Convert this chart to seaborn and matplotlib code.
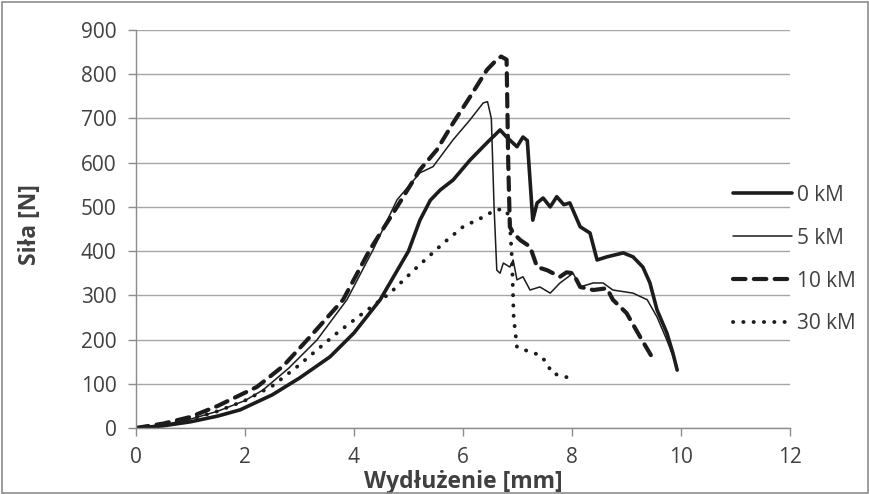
import matplotlib
matplotlib.use("Agg")
import matplotlib.pyplot as plt
import seaborn as sns
import pandas as pd

# ---- data ----
x_0km = [0, 0.5, 1.0, 1.5, 1.91, 2.5, 3.0, 3.56, 4.0, 4.48, 5.0, 5.21, 5.4, 5.58, 5.82, 6.13, 6.44, 6.68, 6.8, 6.99, 7.1,
         7.18, 7.23, 7.28, 7.36, 7.47, 7.6, 7.72, 7.85, 7.96, 8.15, 8.33, 8.46, 8.64, 8.94, 9.12, 9.3, 9.43, 9.56, 9.74,
         9.85, 9.93]
y_0km = [0, 5, 14, 27, 41, 75, 113, 161, 215, 290, 400, 470, 515, 538, 561, 606, 645, 674, 658, 636, 658,
         650, 560, 470, 509, 520, 500, 523, 505, 509, 455, 441, 380, 387, 396, 387, 364, 328, 267, 215,
         170, 131]

x_5km = [0, 0.5, 1.0, 1.5, 2.0, 2.33, 2.8, 3.32, 3.87, 4.35, 4.79, 5.21, 5.45, 5.82, 6.13, 6.37, 6.45, 6.52, 6.57, 6.62,
         6.68, 6.74, 6.86, 6.92, 6.99, 7.1, 7.23, 7.41, 7.6, 7.78, 8.02, 8.15, 8.39, 8.57, 8.75, 9.12, 9.38, 9.56, 9.74,
         9.93]
y_5km = [0, 7, 20, 38, 62, 86, 135, 199, 290, 403, 516, 577, 591, 652, 697, 735, 738, 700, 500, 357,
         350, 373, 364, 380, 335, 342, 312, 319, 305, 328, 350, 319, 328, 328, 312, 305, 290, 251, 199,
         138]

x_10km = [0, 0.5, 1.0, 1.5, 2.22, 2.7, 3.14, 3.8, 4.29, 4.79, 5.21, 5.52, 5.82, 6.13, 6.44, 6.62, 6.7, 6.8, 6.83, 6.86,
          6.92, 7.05, 7.23, 7.36, 7.54, 7.78, 7.9, 8.02, 8.15, 8.39, 8.64, 8.75, 9.0, 9.25, 9.47]
y_10km = [0, 10, 25, 50, 93, 140, 199, 290, 403, 500, 584, 629, 690, 749, 810, 833, 840, 833, 600, 455,
          441, 425, 410, 364, 357, 342, 352, 350, 319, 312, 316, 290, 260, 206, 160]

x_30km = [0, 0.5, 1.0, 1.5, 2.0, 2.5, 2.95, 3.69, 4.17, 4.66, 5.16, 5.64, 6.0, 6.37, 6.59, 6.75, 6.85, 6.9, 6.93, 6.99,
          7.23, 7.41, 7.54, 7.63, 7.96]
y_30km = [0, 8, 20, 38, 62, 95, 138, 215, 260, 305, 364, 418, 455, 477, 493, 495, 480, 380, 250, 183,
          172, 165, 147, 124, 113]

labels = ["0 kM", "5 kM", "10 kM", "30 kM"]
x_ticks = [0, 2, 4, 6, 8, 10, 12]
y_ticks = [0, 100, 200, 300, 400, 500, 600, 700, 800, 900]

sns.set_theme(style="white")
plt.rcParams["font.family"] = ["Open Sans", "DejaVu Sans"]

W, H = 870, 494
fig = plt.figure(figsize=(W / 100, H / 100), dpi=100)
ax = fig.add_axes([136 / W, 1 - 428 / H, (790 - 136) / W, (428 - 30) / H])

line_col = "#1c1c1c"
text_col = "#404040"
series = [
    (x_0km, y_0km, labels[0], dict(linewidth=2.6, linestyle="-")),
    (x_5km, y_5km, labels[1], dict(linewidth=1.1, linestyle="-")),
    (x_10km, y_10km, labels[2], dict(linewidth=3.0, linestyle=(0, (3.0, 2.0)), dash_capstyle="round")),
    (x_30km, y_30km, labels[3], dict(linewidth=2.8, linestyle=(0, (0.05, 2.6)), dash_capstyle="round")),
]
for xs, ys, lab, kw in series:
    df = pd.DataFrame({"x": xs, "y": ys})
    sns.lineplot(data=df, x="x", y="y", ax=ax, sort=False, estimator=None, color=line_col, label=lab, **kw)

ax.set_xlim(0, 12)
ax.set_ylim(0, 900)
ax.set_xticks(x_ticks)
ax.set_yticks(y_ticks)
ax.yaxis.grid(True, color="#a6a6a6", linewidth=1.0)
ax.xaxis.grid(False)
ax.set_axisbelow(True)
for s in ["top", "right"]:
    ax.spines[s].set_visible(False)
for s in ["left", "bottom"]:
    ax.spines[s].set_color("#8c8c8c")
    ax.spines[s].set_linewidth(1.0)
ax.tick_params(axis="both", which="both", direction="out", length=6, width=1, color="#8c8c8c",
               labelsize=15, labelcolor=text_col, bottom=True, left=True)
ax.tick_params(axis="x", pad=8)
ax.tick_params(axis="y", pad=8)
ax.set_xlabel("Wydłużenie [mm]", fontsize=16.5, fontweight="bold", color=text_col)
ax.set_ylabel("Siła [N]", fontsize=16.5, fontweight="bold", color=text_col)
ax.xaxis.set_label_coords(0.5, (428 - 470) / 398)
ax.yaxis.set_label_coords((42 - 136) / 654, 0.51)

leg = ax.legend(loc="upper left", bbox_to_anchor=(714 / W, 1 - 166 / H), bbox_transform=fig.transFigure,
                frameon=False, handlelength=2.85, handletextpad=0.25, labelspacing=1.05,
                prop={"size": 15})
for t in leg.get_texts():
    t.set_color(text_col)

# outer border
fig.patches.append(plt.Rectangle((0.002, 0.002), 0.996, 0.994, transform=fig.transFigure,
                                 fill=False, edgecolor="#8c8c8c", linewidth=1.2))

fig.savefig("out.png", dpi=100, facecolor="white")
